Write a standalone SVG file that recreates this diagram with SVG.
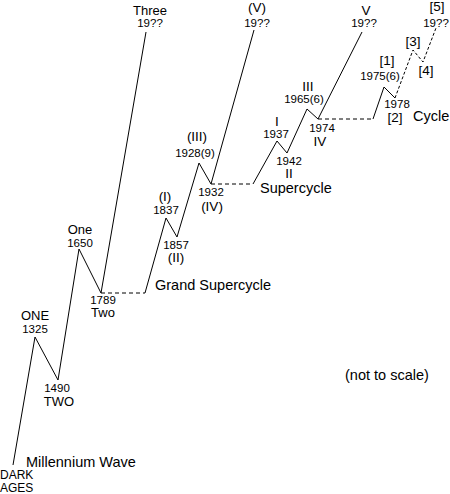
<svg xmlns="http://www.w3.org/2000/svg" width="450" height="494" viewBox="0 0 450 494">
<style>
text{font-family:"Liberation Sans",Arial,sans-serif;fill:#000;text-anchor:middle}
.d{font-size:11.5px}
.b{font-size:13px}
.r{font-size:13.5px}
.t{font-size:14.5px;text-anchor:start}
.s{fill:none;stroke:#000;stroke-width:1}
.h{fill:none;stroke:#000;stroke-width:1;stroke-dasharray:4 3}
.p{fill:none;stroke:#000;stroke-width:1;stroke-dasharray:3 2}
</style>
<rect width="450" height="494" fill="#fff"/>
<g id="connectors">
<polyline class="s" points="13,465 35,337 58,380 79,249 101,293 146,32"/>
<line class="h" x1="101" y1="293" x2="145" y2="293"/>
<polyline class="s" points="145,293 166,218 177,237 199,163 211,184 254,30"/>
<line class="h" x1="211" y1="184" x2="253" y2="184"/>
<polyline class="s" points="253,184 277,141 287,153 307,109 318,119 362,32"/>
<line class="h" x1="318" y1="119" x2="373" y2="119"/>
<polyline class="s" points="373,119 384,87 395,98"/>
<polyline class="p" points="395,98 413,50 423,62 436,28"/>
</g>
<g id="dark-ages"><text class="t" style="font-size:12px" x="0" y="479">DARK</text><text class="t" style="font-size:12px" x="0" y="492">AGES</text></g>
<g id="one-1325"><text class="b" x="35" y="320">ONE</text><text class="d" x="35" y="333">1325</text></g>
<g id="two-1490"><text class="d" x="57" y="392">1490</text><text class="b" x="59" y="406">TWO</text></g>
<g id="one-1650"><text class="b" x="80" y="234">One</text><text class="d" x="80" y="247">1650</text></g>
<g id="two-1789"><text class="d" x="103" y="304">1789</text><text class="b" x="103" y="317">Two</text></g>
<g id="three"><text class="b" x="150" y="15">Three</text><text class="d" x="150" y="27">19??</text></g>
<g id="w1-1837"><text class="r" x="165" y="201">(I)</text><text class="d" x="166" y="214">1837</text></g>
<g id="w2-1857"><text class="d" x="176" y="249">1857</text><text class="r" x="176" y="262">(II)</text></g>
<g id="w3-1928"><text class="r" x="197" y="141">(III)</text><text class="d" x="195" y="157">1928(9)</text></g>
<g id="w4-1932"><text class="d" x="211" y="196">1932</text><text class="r" x="212" y="211">(IV)</text></g>
<g id="w5-gsc"><text class="r" x="257" y="12">(V)</text><text class="d" x="257" y="27">19??</text></g>
<g id="i-1937"><text class="r" x="277" y="126">I</text><text class="d" x="276" y="138">1937</text></g>
<g id="ii-1942"><text class="d" x="289" y="165">1942</text><text class="r" x="289" y="178">II</text></g>
<g id="iii-1965"><text class="r" x="308" y="91">III</text><text class="d" x="304" y="103">1965(6)</text></g>
<g id="iv-1974"><text class="d" x="322" y="132">1974</text><text class="r" x="320" y="146">IV</text></g>
<g id="v-sc"><text class="r" x="366" y="15">V</text><text class="d" x="364" y="27">19??</text></g>
<g id="c1-1975"><text class="r" x="387" y="65">[1]</text><text class="d" x="380" y="80">1975(6)</text></g>
<g id="c2-1978"><text class="d" x="397" y="108">1978</text><text class="r" x="395" y="122">[2]</text></g>
<g id="c3"><text class="r" x="413" y="46">[3]</text></g>
<g id="c4"><text class="r" x="426" y="75">[4]</text></g>
<g id="c5"><text class="r" x="437" y="11">[5]</text><text class="d" x="436" y="27">19??</text></g>
<g id="label-millennium"><text class="t" x="26" y="467">Millennium Wave</text></g>
<g id="label-grand"><text class="t" x="155" y="290">Grand Supercycle</text></g>
<g id="label-super"><text class="t" x="260" y="193">Supercycle</text></g>
<g id="label-cycle"><text class="t" x="413" y="121">Cycle</text></g>
<g id="note"><text class="t" x="345" y="380">(not to scale)</text></g>
</svg>
